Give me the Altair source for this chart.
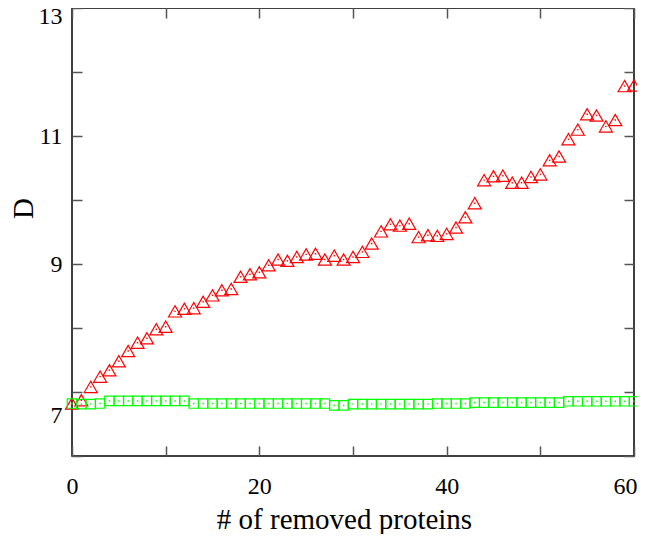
import altair as alt
import pandas as pd

x_vals = list(range(61))

red_D = [6.82, 6.87, 7.08, 7.24, 7.34, 7.48, 7.64, 7.77, 7.84, 7.98,
         8.02, 8.26, 8.30, 8.31, 8.41, 8.51, 8.59, 8.61, 8.80, 8.84,
         8.87, 8.98, 9.07, 9.05, 9.11, 9.15, 9.16, 9.07, 9.13, 9.07,
         9.11, 9.19, 9.32, 9.51, 9.62, 9.60, 9.63, 9.42, 9.45, 9.44,
         9.47, 9.57, 9.73, 9.95, 10.31, 10.37, 10.38, 10.27, 10.27, 10.36,
         10.40, 10.62, 10.68, 10.95, 11.10, 11.34, 11.32, 11.15, 11.25, 11.78,
         11.79]

green_D = [6.82, 6.81, 6.81, 6.82, 6.86, 6.86, 6.86, 6.86, 6.86, 6.86,
           6.86, 6.86, 6.86, 6.82, 6.82, 6.82, 6.82, 6.82, 6.82, 6.82,
           6.82, 6.82, 6.82, 6.82, 6.82, 6.82, 6.82, 6.82, 6.79, 6.79,
           6.81, 6.81, 6.81, 6.81, 6.81, 6.81, 6.81, 6.81, 6.81, 6.82,
           6.82, 6.82, 6.82, 6.835, 6.835, 6.835, 6.835, 6.835, 6.835, 6.835,
           6.835, 6.835, 6.835, 6.855, 6.855, 6.855, 6.855, 6.855, 6.855, 6.855,
           6.855]

x_ticks = [0, 10, 20, 30, 40, 50, 60]
y_ticks = [6, 7, 8, 9, 10, 11, 12, 13]

df = pd.DataFrame({
    "x": x_vals * 2,
    "D": red_D + green_D,
    "series": ["red"] * len(red_D) + ["green"] * len(green_D),
})

FONT = "Liberation Serif"
xscale = alt.Scale(domain=[0, 60], nice=False, zero=False)
yscale = alt.Scale(domain=[6, 13], nice=False, zero=False)
inward = {"expr": "-10"}

x_bottom = alt.Axis(orient="bottom", values=x_ticks, title="# of removed proteins",
                    labelExpr="datum.value % 20 == 0 ? datum.label : ''",
                    tickSize=inward, labelPadding=28, labelFlush=False, labelOverlap=False,
                    labelOffset={"condition": {"test": "datum.value == 60", "value": -9},
                                 "value": 0},
                    titleX=272, titleY=72, titleBaseline="alphabetic", titleAlign="center")
y_left = alt.Axis(orient="left", values=y_ticks, title="D",
                  labelExpr="datum.value % 2 == 1 ? datum.label : ''",
                  tickSize=inward, labelPadding=20, labelFlush=False, labelOverlap=False,
                  labelOffset={"condition": [{"test": "datum.value == 7", "value": 23},
                                             {"test": "datum.value == 13", "value": 8}],
                               "value": 0},
                  titleX=-40, titleY=200, titleBaseline="alphabetic", titleAlign="center", titleAngle=-90)
x_top = alt.Axis(orient="top", values=x_ticks, title=None, labels=False, tickSize=inward)
y_right = alt.Axis(orient="right", values=y_ticks, title=None, labels=False, tickSize=inward)

color_scale = alt.Scale(domain=["red", "green"], range=["#ff0000", "#00ff00"])
shape_scale = alt.Scale(domain=["red", "green"], range=["triangle-up", "square"])
size_scale = alt.Scale(domain=["red", "green"], range=[170, 90])

markers = alt.Chart(df).mark_point(filled=False, strokeWidth=1.2, opacity=1).encode(
    x=alt.X("x:Q", scale=xscale, axis=x_bottom),
    y=alt.Y("D:Q", scale=yscale, axis=y_left),
    color=alt.Color("series:N", scale=color_scale, legend=None),
    shape=alt.Shape("series:N", scale=shape_scale, legend=None),
    size=alt.Size("series:N", scale=size_scale, legend=None),
)

dots = alt.Chart(df).mark_point(filled=True, shape="square", size=2, opacity=1).encode(
    x=alt.X("x:Q", scale=xscale, axis=x_top),
    y=alt.Y("D:Q", scale=yscale, axis=y_right),
    color=alt.Color("series:N", scale=color_scale, legend=None),
)

chart = alt.layer(markers, dots).properties(
    width=562, height=448,
    autosize=alt.AutoSizeParams(type="none"),
    padding={"left": 64, "top": 0, "right": 3, "bottom": 78},
).configure_view(
    stroke="black", strokeWidth=1.5
).configure_axis(
    domain=False, grid=False, tickColor="#555555", tickWidth=1.5,
    labelFont=FONT, labelFontSize=24, labelColor="black",
    titleFont=FONT, titleFontSize=29, titleFontWeight="normal", titleColor="black",
)

chart.save("out.html", embed_options={"renderer": "svg", "actions": False})
